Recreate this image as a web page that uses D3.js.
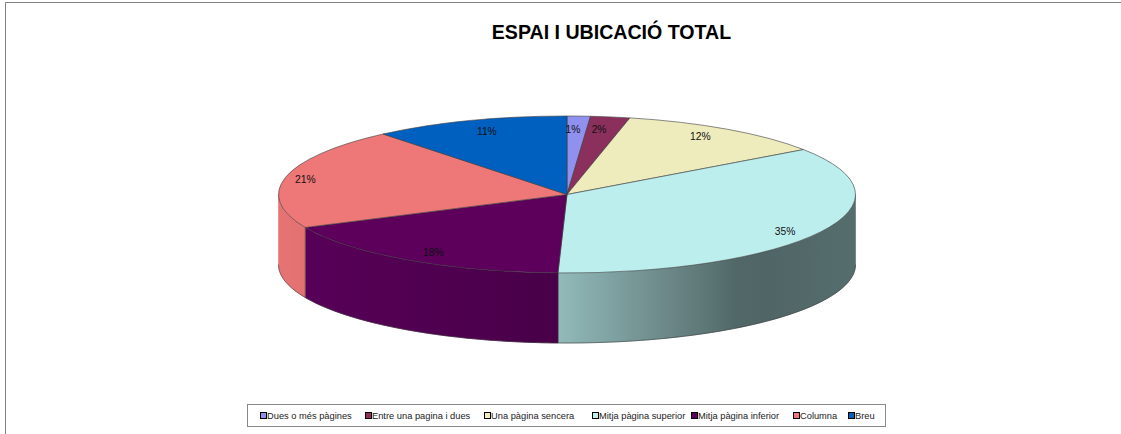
<!DOCTYPE html>
<html><head><meta charset="utf-8">
<script src="https://cdn.jsdelivr.net/npm/d3@7"></script>
<style>html,body{margin:0;padding:0;background:#fff}svg{display:block}text{font-family:"Liberation Sans",Arial,sans-serif}</style>
</head><body><div id="c"></div>
<script>
const categories = ["Dues o més pàgines","Entre una pagina i dues","Una pàgina sencera","Mitja pàgina superior","Mitja pàgina inferior","Columna","Breu"];
const values = [1.3,2.2,11.8,35.2,17.6,20.9,11.0];
const percentLabels = ["1%","2%","12%","35%","18%","21%","11%"];
const colors = ["#9090ee","#8b2f5c","#eeecbc","#bceeee","#5c005c","#ee7777","#0060c0"];
const title = "ESPAI I UBICACIÓ TOTAL";

const W=1121,H=434,cx=567,cy=194.5,rx=288.5,ry=78.5,depth=70;
const svg=d3.select("#c").append("svg").attr("width",W).attr("height",H);
const defs=svg.append("defs");

svg.append("path").attr("d",d3.line()([[5.5,434],[5.5,2.5],[1121,2.5]])).attr("fill","none").attr("stroke","#808080").attr("stroke-width",1);

svg.append("text").attr("x",611.5).attr("y",39).attr("text-anchor","middle").attr("font-size",19.6).attr("font-weight","bold").attr("fill","#000").text(title);

const arcs=d3.pie().sort(null).value(d=>d)(values);
const px=a=>cx+rx*Math.sin(a), py=a=>cy-ry*Math.cos(a);
const light=d3.scaleLinear().domain([-1,-.03,.62,1]).range([.97,.78,.42,.46]).clamp(true);

// walls
arcs.forEach((d,i)=>{
  const a0=Math.max(d.startAngle,Math.PI/2),a1=Math.min(d.endAngle,Math.PI*1.5);
  if(a1<=a0)return;
  const id="w"+i,x0=px(a1),x1=px(a0),base=d3.rgb(colors[i]);
  const g=defs.append("linearGradient").attr("id",id).attr("gradientUnits","userSpaceOnUse").attr("x1",x0).attr("x2",x1).attr("y1",0).attr("y2",0);
  d3.range(0,1.0001,.1).forEach(t=>{
    const x=x0+(x1-x0)*t,k=light((x-cx)/rx);
    g.append("stop").attr("offset",t).attr("stop-color",d3.rgb(base.r*k,base.g*k,base.b*k).formatHex());
  });
  const angs=d3.range(0,61).map(t=>a0+(a1-a0)*t/60);
  const pts=angs.map(a=>[px(a),py(a)]).concat(angs.slice().reverse().map(a=>[px(a),py(a)+depth]));
  svg.append("path").attr("d",d3.line()(pts)+"Z").attr("fill",`url(#${id})`).attr("stroke",`url(#${id})`).attr("stroke-width",.6);
});
// bottom outline
{
  const angs=d3.range(0,181).map(t=>Math.PI/2+Math.PI*t/180);
  svg.append("path").attr("d",d3.line()(angs.map(a=>[px(a),py(a)+depth]))).attr("fill","none").attr("stroke","#333").attr("stroke-width",.8).attr("stroke-opacity",.7);
}
// top slices
const arcGen=d3.arc().innerRadius(0).outerRadius(rx);
const topFace=svg.append("g").attr("transform",`translate(${cx},${cy}) scale(1,${ry/rx})`);
topFace.selectAll("path").data(arcs).join("path").attr("d",arcGen).attr("fill",(d,i)=>colors[i])
  .attr("stroke","#3a3a3a").attr("stroke-opacity",.75).attr("stroke-width",.8).attr("vector-effect","non-scaling-stroke");
// wall edges
arcs.forEach(d=>{
  const a=d.endAngle;
  if(a>Math.PI/2&&a<Math.PI*1.5)
    svg.append("line").attr("x1",px(a)).attr("x2",px(a)).attr("y1",py(a)).attr("y2",py(a)+depth).attr("stroke","#222").attr("stroke-opacity",.6).attr("stroke-width",.7);
});
// labels
const labelReachX=[.51,.74,.83,.86,.84,.93,.82];
const labelReachY=[.83,.84,.89,.995,.89,.89,.85];
svg.selectAll("text.pct").data(arcs).join("text").attr("class","pct")
  .attr("x",(d,i)=>cx+rx*labelReachX[i]*Math.sin((d.startAngle+d.endAngle)/2))
  .attr("y",(d,i)=>cy-ry*labelReachY[i]*Math.cos((d.startAngle+d.endAngle)/2)+3.5)
  .attr("text-anchor","middle").attr("font-size",10.3).attr("fill","#111").text((d,i)=>percentLabels[i]);
// legend
const legendX=247,legendY=404,legendW=638,legendH=22;
svg.append("rect").attr("x",legendX+.5).attr("y",legendY+.5).attr("width",legendW).attr("height",legendH).attr("fill","#fff").attr("stroke","#888").attr("stroke-width",1);
const legendStarts=[260,365,484,592,691,793,848];
const lg=svg.append("g").selectAll("g").data(categories).join("g").attr("transform",(d,i)=>`translate(${legendStarts[i]},${legendY+8})`);
lg.append("rect").attr("x",.5).attr("y",.5).attr("width",6).attr("height",6).attr("fill",(d,i)=>colors[i]).attr("stroke","#000").attr("stroke-width",1);
lg.append("text").attr("x",7).attr("y",7).attr("font-size",9.3).attr("fill","#222").text(d=>d);
</script></body></html>
